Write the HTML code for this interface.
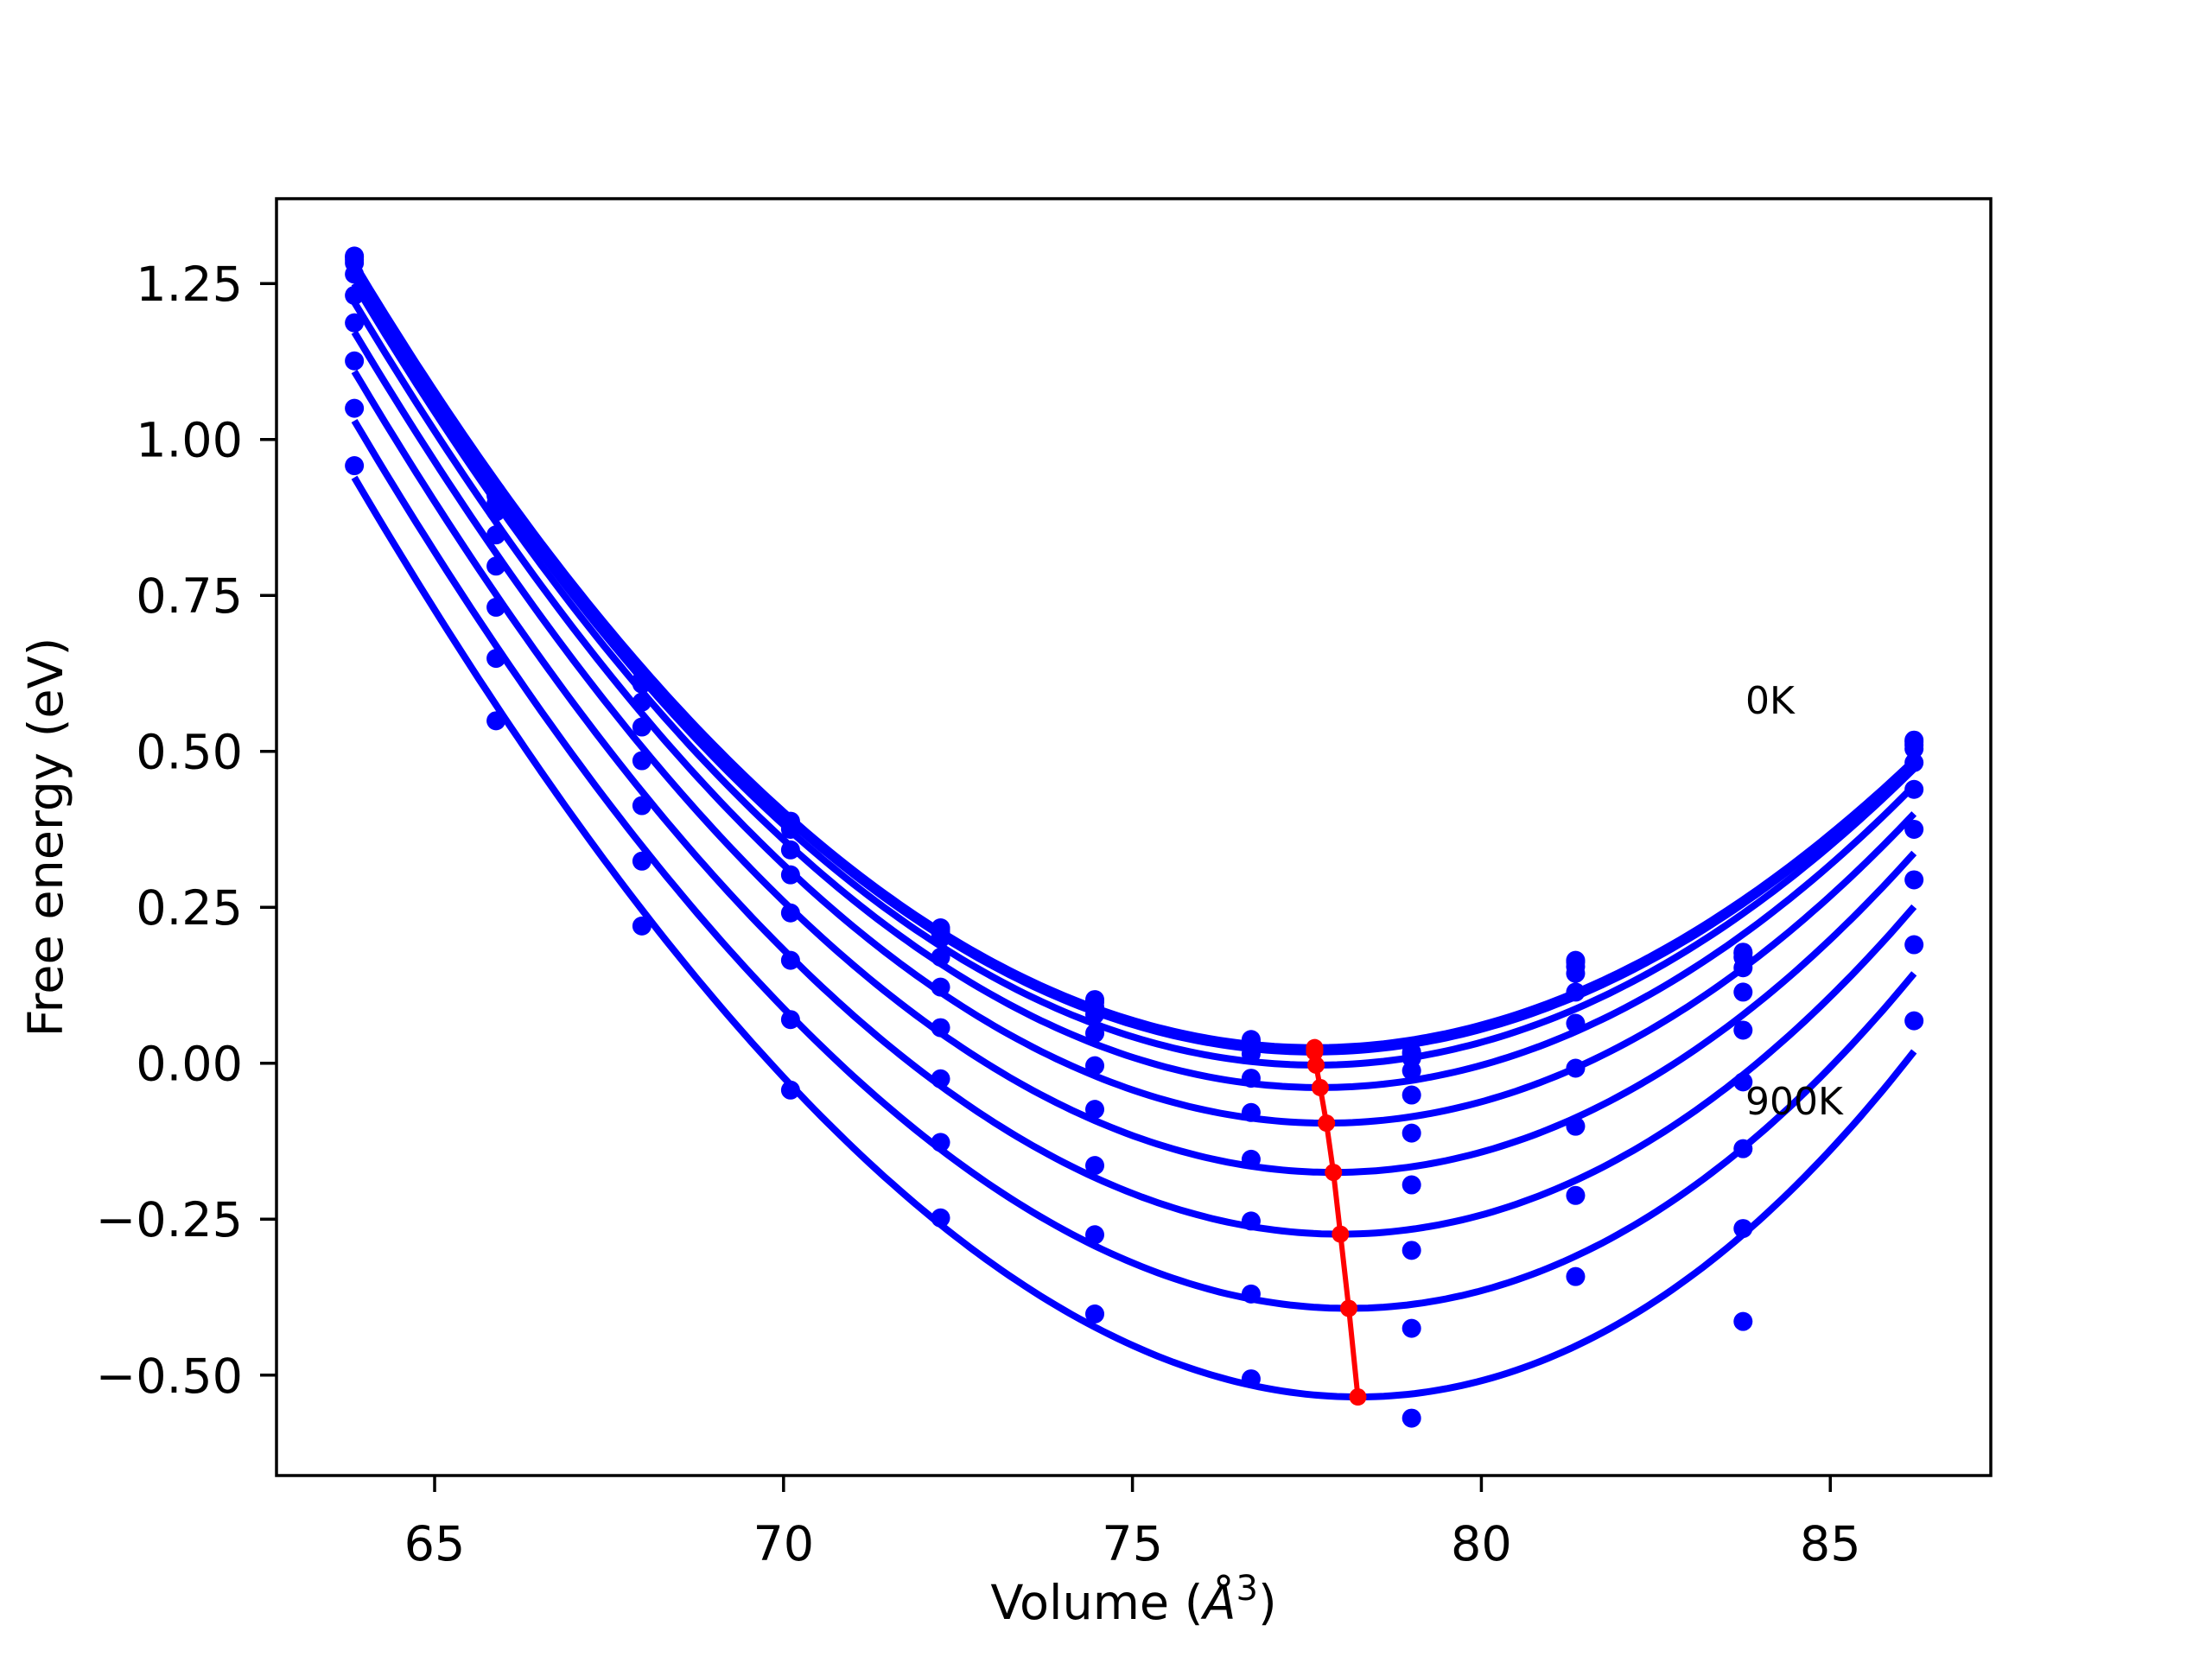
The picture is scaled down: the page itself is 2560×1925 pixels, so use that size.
<!DOCTYPE html>
<html><head><meta charset="utf-8">
<style>
html,body{margin:0;padding:0;background:#fff;}
body{position:relative;}
svg text{font-family:"DejaVu Sans","Liberation Sans",sans-serif;}
</style></head>
<body>
<svg id="chart" width="2560" height="1920" viewBox="0 0 2560 1920" xmlns="http://www.w3.org/2000/svg">
<rect x="0" y="0" width="2560" height="1920" fill="#fff"/>
<g id="plot"></g>
<g id="axes"></g>
</svg>
<script>
const temperatures = [0,100,200,300,400,500,600,700,800,900];
const volumes = [63.85,65.88,67.97,70.1,72.25,74.46,76.7,79.0,81.35,83.75,86.2];
const minVolume = [77.61,77.61,77.61,77.63,77.69,77.78,77.88,77.98,78.10,78.23];
const minEnergy = [0.025,0.022,0.018,-0.003,-0.039,-0.096,-0.175,-0.274,-0.393,-0.535];
const leftEnergy = [1.282,1.279,1.274,1.264,1.25,1.22,1.172,1.109,1.03,0.939];
const rightEnergy = [0.486,0.484,0.480,0.472,0.445,0.40,0.337,0.251,0.144,0.019];
const pointsV63 = [1.294,1.292,1.288,1.283,1.265,1.231,1.187,1.126,1.050,0.958];
const pointsV65 = [0.917,0.915,0.910,0.897,0.884,0.847,0.797,0.731,0.649,0.549];
const pointsV67 = [0.615,0.612,0.610,0.608,0.579,0.539,0.485,0.413,0.324,0.220];
const pointsV70 = [0.388,0.386,0.385,0.375,0.342,0.302,0.241,0.165,0.070,-0.043];
const pointsV72 = [0.217,0.215,0.210,0.200,0.170,0.122,0.057,-0.025,-0.127,-0.248];
const pointsV74 = [0.102,0.098,0.090,0.078,0.048,-0.004,-0.074,-0.164,-0.275,-0.402];
const pointsV76 = [0.038,0.035,0.032,0.015,-0.024,-0.079,-0.154,-0.253,-0.370,-0.506];
const pointsV79 = [0.018,0.015,0.008,-0.012,-0.051,-0.112,-0.195,-0.300,-0.425,-0.569];
const pointsV81 = [0.165,0.162,0.155,0.144,0.114,0.064,-0.008,-0.101,-0.212,-0.342];
const pointsV83 = [0.178,0.176,0.170,0.153,0.114,0.053,-0.030,-0.137,-0.265,-0.414];
const pointsV86 = [0.518,0.515,0.510,0.504,0.482,0.439,0.375,0.294,0.190,0.068];
const xTicks = [65,70,75,80,85];
const yTicks = [-0.50,-0.25,0.00,0.25,0.50,0.75,1.00,1.25];
const yTickLabels = ["\u22120.50","\u22120.25","0.00","0.25","0.50","0.75","1.00","1.25"];

const NS="http://www.w3.org/2000/svg";
const L=320,R=2304,T=230,B=1708;
const xMin=62.734,xMax=87.30,yMin=-0.661,yMax=1.386;
function sx(v){return L+(v-xMin)/(xMax-xMin)*(R-L);}
function sy(e){return B-(e-yMin)/(yMax-yMin)*(B-T);}
function mk(tag,attrs,parent){const el=document.createElementNS(NS,tag);for(const k in attrs)el.setAttribute(k,attrs[k]);parent.appendChild(el);return el;}
const plot=document.getElementById('plot');
const axes=document.getElementById('axes');
const pointCols=[pointsV63,pointsV65,pointsV67,pointsV70,pointsV72,pointsV74,pointsV76,pointsV79,pointsV81,pointsV83,pointsV86];

const clip=mk('clipPath',{id:'clipAx'},plot);
mk('rect',{x:L,y:T,width:R-L,height:B-T},clip);
const inner=mk('g',{'clip-path':'url(#clipAx)'},plot);

const vA=volumes[0],vB=volumes[volumes.length-1];
for(let i=0;i<temperatures.length;i++){
  const V0=minVolume[i],E0=minEnergy[i];
  const dl=vA-V0,dr=vB-V0,El=leftEnergy[i]-E0,Er=rightEnergy[i]-E0;
  const det=dl*dl*dr*dr*dr-dl*dl*dl*dr*dr;
  const a=(El*dr*dr*dr-dl*dl*dl*Er)/det;
  const b=(dl*dl*Er-dr*dr*El)/det;
  let d='';
  for(let k=0;k<=200;k++){
    const v=vA+(vB-vA)*k/200,dd=v-V0;
    const e=E0+a*dd*dd+b*dd*dd*dd;
    d+=(k?'L':'M')+sx(v).toFixed(1)+' '+sy(e).toFixed(1);
  }
  const path=mk('path',{d:d,fill:'none',stroke:'#0000ff','stroke-width':8},inner);
  
  
  for(let j=0;j<volumes.length;j++){
    const c=mk('circle',{cx:sx(volumes[j]),cy:sy(pointCols[j][i]),r:11,fill:'#0000ff'},inner);
    
    
  }
}
let rd='';
for(let i=0;i<temperatures.length;i++){rd+=(i?'L':'M')+sx(minVolume[i]).toFixed(1)+' '+sy(minEnergy[i]).toFixed(1);}
const rl=mk('path',{d:rd,fill:'none',stroke:'#ff0000','stroke-width':6},inner);


for(let i=0;i<temperatures.length;i++){
  const c=mk('circle',{cx:sx(minVolume[i]),cy:sy(minEnergy[i]),r:10,fill:'#ff0000'},inner);
  
  
}
const t0=mk('text',{x:2020,y:826,'font-size':44,fill:'#000'},plot);t0.textContent='0K';


const t9=mk('text',{x:2020,y:1290,'font-size':44,fill:'#000'},plot);t9.textContent='900K';



const fr=mk('rect',{x:L,y:T,width:R-L,height:B-T,fill:'none',stroke:'#000','stroke-width':3.5},axes);


for(const v of xTicks){
  const x=sx(v);
  const tk=mk('line',{x1:x,y1:B,x2:x,y2:B+19,stroke:'#000','stroke-width':3.5},axes);
  
  
  const tl=mk('text',{x:x,y:1806,'font-size':55.6,'text-anchor':'middle',fill:'#000'},axes);
  tl.textContent=String(v);
  
  
}
for(let i=0;i<yTicks.length;i++){
  const y=sy(yTicks[i]);
  const tk=mk('line',{x1:L-19,y1:y,x2:L,y2:y,stroke:'#000','stroke-width':3.5},axes);
  
  
  const tl=mk('text',{x:281,y:y+20,'font-size':55.6,'text-anchor':'end',fill:'#000'},axes);
  tl.textContent=yTickLabels[i];
  
  
}
</script>
<svg style="position:absolute;left:0;top:0" width="2560" height="1920" xmlns="http://www.w3.org/2000/svg">
<text x="1312" y="1874" font-size="55.6" text-anchor="middle" font-family="DejaVu Sans, Liberation Sans, sans-serif">Volume (<tspan font-style="italic">Å</tspan><tspan font-size="40" dy="-22">3</tspan><tspan dy="22">)</tspan></text>
<text transform="translate(72,969) rotate(-90)" font-size="55.6" text-anchor="middle" font-family="DejaVu Sans, Liberation Sans, sans-serif">Free energy (eV)</text>
</svg>
</body></html>
